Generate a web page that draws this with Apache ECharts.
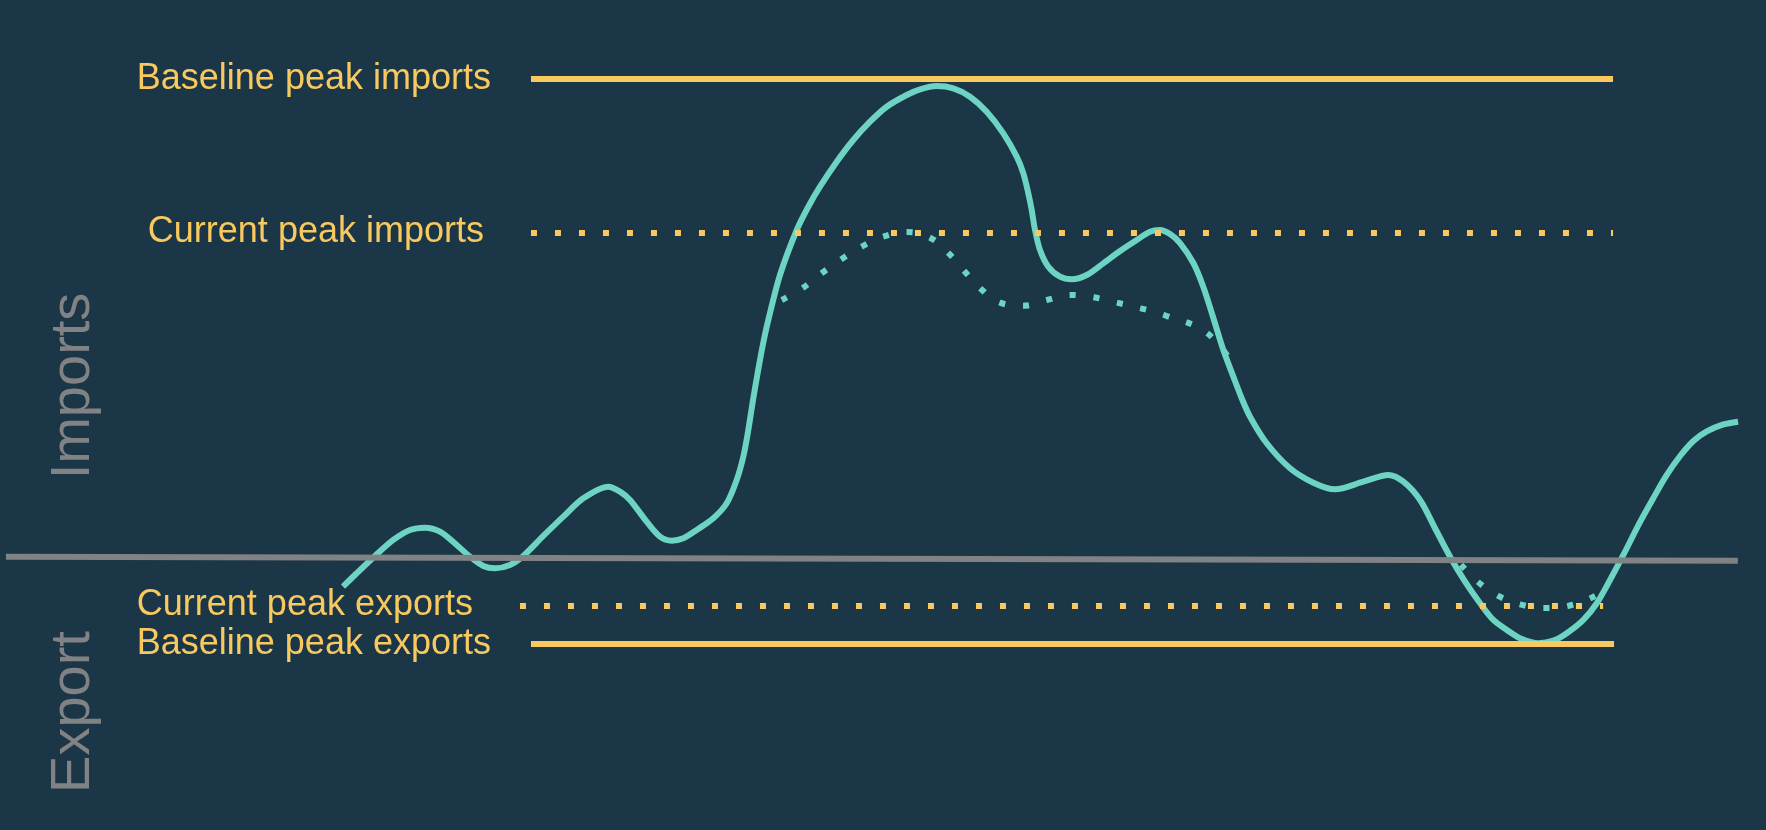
<!DOCTYPE html>
<html>
<head>
<meta charset="utf-8">
<style>
  html, body { margin: 0; padding: 0; background: #1b3647; }
  #chart { width: 1766px; height: 830px; }
</style>
<script src="https://cdn.jsdelivr.net/npm/echarts@6/dist/echarts.min.js"></script>
</head>
<body>
<div id="chart"></div>
<script>
// ---- data (x in hours, y in % of baseline peak imports) ----
const solidX = [0, 0.236, 0.551, 0.865, 1.153, 1.411, 1.669, 1.956, 2.185, 2.414, 2.615, 2.873, 3.102, 3.446, 3.790, 4.134, 4.564, 4.766, 4.938, 5.225, 5.454, 5.655, 5.855, 6.085, 6.371, 6.601, 6.773, 6.887, 6.973, 7.054, 7.140, 7.226, 7.317, 7.518, 7.806, 8.005, 8.206, 8.494, 8.779, 9.067, 9.354, 9.698, 9.927, 10.214, 10.500, 10.787, 11.074, 11.360, 11.590, 11.704, 11.790, 11.848, 11.905, 11.991, 12.134, 12.335, 12.537, 12.795, 13.080, 13.368, 13.655, 13.884, 14.056, 14.228, 14.400, 14.629, 14.801, 14.973, 15.145, 15.317, 15.461, 15.604, 15.891, 16.292, 16.693, 17.066, 17.553, 17.983, 18.242, 18.529, 18.787, 19.045, 19.303, 19.561, 19.790, 20.020, 20.249, 20.564, 20.822, 21.053, 21.338, 21.569, 21.797, 22.026, 22.314, 22.543, 22.773, 23.002, 23.231, 23.461, 23.747, 24.0];
const solidY = [-5.99, -3.19, 0.42, 3.76, 5.85, 6.33, 5.49, 2.71, 0.27, -1.67, -2.15, -1.46, 0.42, 4.59, 8.62, 12.46, 14.89, 13.84, 12.11, 7.58, 4.45, 3.61, 4.11, 5.85, 8.29, 11.42, 16.28, 21.15, 26.72, 32.99, 39.04, 44.68, 49.69, 59.08, 68.48, 73.34, 77.52, 82.74, 87.27, 91.09, 94.22, 96.66, 97.85, 98.54, 98.06, 96.31, 93.17, 88.66, 83.78, 80.31, 76.14, 72.65, 68.48, 64.30, 60.81, 58.73, 58.18, 59.08, 61.52, 64.09, 66.39, 68.12, 68.48, 67.64, 65.76, 61.59, 56.58, 50.10, 43.42, 37.85, 33.34, 29.50, 23.95, 18.73, 15.72, 14.34, 15.93, 17.33, 15.93, 12.11, 6.20, 0.27, -4.95, -9.46, -12.94, -15.03, -16.76, -17.81, -17.27, -15.72, -12.94, -9.46, -4.59, 0.63, 7.52, 12.53, 17.33, 21.29, 24.43, 26.41, 27.87, 28.46];

const curImpX = [7.548, 7.909, 8.241, 8.580, 8.924, 9.290, 9.703, 10.099, 10.409, 10.684, 10.971, 11.303, 11.699, 12.107, 12.508, 12.915, 13.316, 13.724, 14.125, 14.865, 15.376];
const curImpY = [53.86, 56.37, 59.50, 62.42, 64.99, 67.08, 68.06, 66.87, 63.74, 59.98, 56.22, 53.30, 52.67, 53.86, 54.91, 54.43, 53.30, 52.13, 50.73, 46.97, 39.25];

const curExpX = [19.234, 19.527, 19.866, 20.249, 20.657, 21.070, 21.459, 21.810];
const curExpY = [-1.40, -5.01, -7.87, -9.67, -10.44, -10.02, -8.41, -5.85];

const refNames = ['Baseline peak imports', 'Current peak imports', 'Current peak exports', 'Baseline peak exports'];
const refValues = [100, 68, -9.9, -18];
const refStart = [3.234, 3.234, 3.045, 3.234];
const refEnd = [21.849, 21.849, 21.678, 21.866];

const zeroX = [-5.798, 23.995];
const zeroY = [0.27, -0.56];

const sideLabels = ['Imports', 'Export'];

// ---- styling ----
const BG = '#1b3647';
const TEAL = '#6dd4c4';
const YELLOW = '#f8c95f';
const GRAY = '#808283';
const FONT = '"Liberation Sans", Arial, Helvetica, sans-serif';

const zip = (xs, ys) => xs.map((x, i) => [x, ys[i]]);

const chart = echarts.init(document.getElementById('chart'), null, { renderer: 'canvas' });

const refLines = refNames.map((name, i) => {
  const current = name.startsWith('Current');
  return [
    {
      coord: [refStart[i], refValues[i]],
      lineStyle: current
        ? { color: YELLOW, width: 6, type: [6, 18], cap: 'butt' }
        : { color: YELLOW, width: 6, type: 'solid', cap: 'butt' },
      label: {
        show: true,
        position: 'start',
        formatter: name,
        distance: current ? 47 : 40,
        color: YELLOW,
        fontSize: 36,
        fontFamily: FONT,
        padding: [0, 0, 6, 0]
      }
    },
    { coord: [refEnd[i], refValues[i]] }
  ];
});

const option = {
  backgroundColor: BG,
  animation: false,
  grid: { left: 0, right: 0, top: 0, bottom: 0 },
  xAxis: { type: 'value', min: -5.90, max: 24.48, show: false },
  yAxis: { type: 'value', min: -56.8, max: 116.5, show: false },
  graphic: [
    {
      type: 'text', x: 74, y: 386, rotation: Math.PI / 2,
      style: { text: sideLabels[0], fontSize: 56, fontFamily: FONT, fill: GRAY, align: 'center', verticalAlign: 'middle' }
    },
    {
      type: 'text', x: 74, y: 712, rotation: Math.PI / 2,
      style: { text: sideLabels[1], fontSize: 56, fontFamily: FONT, fill: GRAY, align: 'center', verticalAlign: 'middle' }
    }
  ],
  series: [
    {
      name: 'Baseline', type: 'line', z: 2, silent: true,
      data: zip(solidX, solidY), smooth: 0.3, symbol: 'none',
      lineStyle: { color: TEAL, width: 6 }
    },
    {
      name: 'Current imports', type: 'line', z: 2, silent: true,
      data: zip(curImpX, curImpY), smooth: 0.4, symbol: 'none',
      lineStyle: { color: TEAL, width: 6, type: [6, 18], cap: 'butt' }
    },
    {
      name: 'Current exports', type: 'line', z: 2, silent: true,
      data: zip(curExpX, curExpY), smooth: 0.4, symbol: 'none',
      lineStyle: { color: TEAL, width: 6, type: [6, 18], cap: 'butt' }
    },
    {
      name: 'Zero', type: 'line', z: 3, silent: true,
      data: zip(zeroX, zeroY), symbol: 'none',
      lineStyle: { color: GRAY, width: 6, cap: 'butt' }
    },
    {
      name: 'Limits', type: 'line', z: 4, silent: true, data: [],
      markLine: {
        silent: true, symbol: 'none', animation: false,
        data: refLines
      }
    }
  ]
};

chart.setOption(option);
</script>
</body>
</html>
